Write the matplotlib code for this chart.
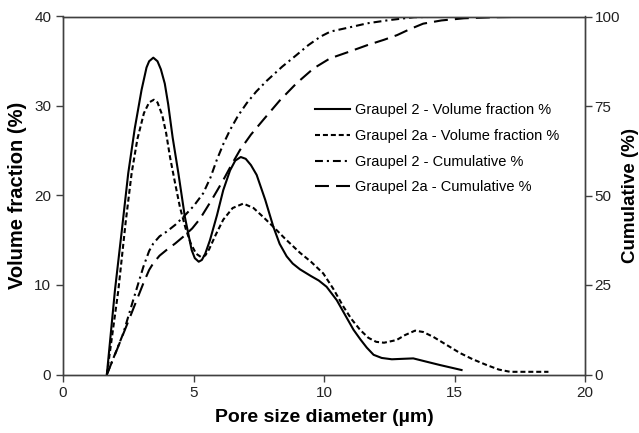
import matplotlib
matplotlib.use("Agg")
import matplotlib.pyplot as plt

plt.rcParams['font.family'] = ['Liberation Sans', 'DejaVu Sans']

# Volume fraction (%) - left axis
x_g2_vol = [1.68, 1.99, 2.25, 2.5, 2.75, 3.01, 3.2, 3.3, 3.46, 3.62, 3.75, 3.9, 4.03, 4.2,
            4.42, 4.67, 4.93, 5.05, 5.2, 5.32, 5.45, 5.63, 5.9, 6.14, 6.4, 6.6, 6.81, 7.0,
            7.2, 7.42, 7.75, 8.06, 8.3, 8.57, 8.8, 9.08, 9.5, 9.8, 10.1, 10.49, 10.8,
            11.13, 11.4, 11.64, 11.9, 12.21, 12.6, 13.0, 13.42, 13.9, 14.44, 14.9, 15.27]
y_g2_vol = [0, 9.4, 16.0, 22.5, 27.5, 31.8, 34.3, 35.0, 35.4, 35.0, 34.1, 32.5, 30.2, 26.5,
            22.5, 17.6, 13.9, 13.0, 12.6, 12.8, 13.5, 15.0, 17.8, 20.6, 22.8, 23.9, 24.3, 24.1,
            23.4, 22.3, 19.5, 16.5, 14.6, 13.2, 12.4, 11.75, 11.0, 10.5, 9.8, 8.3, 6.7,
            5.0, 3.9, 3.0, 2.2, 1.85, 1.7, 1.75, 1.8, 1.45, 1.06, 0.75, 0.5]

x_g2a_vol = [1.68, 2.12, 2.4, 2.63, 2.85, 3.1, 3.3, 3.48, 3.62, 3.8, 3.95, 4.1, 4.3, 4.48,
             4.7, 4.9, 5.1, 5.3, 5.45, 5.6, 5.85, 6.14, 6.5, 6.91, 7.3, 7.67, 8.06, 8.5,
             9.08, 9.5, 9.97, 10.35, 10.74, 11.05, 11.38, 11.7, 12.0, 12.3, 12.78, 13.1,
             13.49, 13.8, 14.19, 14.7, 15.21, 15.7, 16.23, 16.7, 17.13, 18.6]
y_g2a_vol = [0, 9.4, 17.0, 22.5, 26.3, 29.2, 30.4, 30.7, 30.4, 29.0, 27.0, 24.3, 21.3, 18.7,
             16.3, 14.6, 13.5, 13.1, 13.3, 14.0, 15.6, 17.3, 18.6, 19.1, 18.6, 17.6, 16.5, 15.2,
             13.6, 12.6, 11.3, 9.6, 7.6, 6.2, 5.0, 4.1, 3.65, 3.55, 3.85, 4.4,
             4.9, 4.75, 4.2, 3.3, 2.4, 1.7, 1.06, 0.55, 0.3, 0.3]

# Cumulative (%) - right axis
x_g2_cum = [1.68, 2.31, 2.69, 3.08, 3.3, 3.46, 3.7, 3.97, 4.3, 4.61, 5.0, 5.37, 5.65, 5.89,
            6.15, 6.4, 6.7, 7.04, 7.4, 7.8, 8.4, 8.94, 9.4, 9.87, 10.25, 11.0, 11.66, 12.5,
            13.45, 15.0, 18.6]
y_g2_cum = [0, 11.5, 20.8, 30.1, 34.5, 36.6, 38.6, 39.9, 41.8, 44.0, 47.0, 50.6, 55.0, 59.9,
            64.5, 68.3, 72.2, 75.8, 79.0, 82.0, 86.0, 89.2, 92.0, 94.4, 95.8, 97.0, 98.1, 99.0,
            99.8, 100, 100]

x_g2a_cum = [1.68, 2.06, 2.57, 3.08, 3.3, 3.46, 3.7, 3.97, 4.3, 4.61, 4.95, 5.25, 5.7, 6.14,
             6.45, 6.78, 7.2, 7.67, 8.3, 8.94, 9.6, 10.23, 10.9, 11.66, 12.3, 12.8, 13.3,
             13.8, 14.5, 15.36, 16.5, 18.6]
y_g2a_cum = [0, 6.8, 16.1, 25.5, 29.2, 31.1, 33.2, 34.8, 36.6, 38.5, 40.8, 43.5, 48.8, 54.3,
             58.5, 62.7, 67.0, 71.1, 76.5, 81.3, 85.5, 88.3, 90.0, 92.0, 93.5, 94.8, 96.5,
             98.0, 98.9, 99.5, 99.8, 100]

labels = ["Graupel 2 - Volume fraction %", "Graupel 2a - Volume fraction %",
          "Graupel 2 - Cumulative %", "Graupel 2a - Cumulative %"]

x_ticks = [0, 5, 10, 15, 20]
y_ticks = [0, 10, 20, 30, 40]
y2_ticks = [0, 25, 50, 75, 100]

W, H = 639, 433
fig = plt.figure(figsize=(W / 100, H / 100), dpi=100)
ax = fig.add_axes([63 / W, 1 - 374.5 / H, 522 / W, 358 / H])
ax2 = ax.twinx()

lw = 1.5
kw = dict(color='black', lw=lw, solid_joinstyle='round', dash_joinstyle='round')
l1, = ax.plot(x_g2_vol, y_g2_vol, **kw)
l2, = ax.plot(x_g2a_vol, y_g2a_vol, dashes=(2.4, 1.4), **kw)
l3, = ax2.plot(x_g2_cum, y_g2_cum, dashes=(3.8, 1.9, 1.0, 1.9), **kw)
l4, = ax2.plot(x_g2a_cum, y_g2a_cum, dashes=(6.7, 3.4), **kw)

ax.set_xlim(0, 20)
ax.set_ylim(0, 40)
ax2.set_ylim(0, 100)
ax.set_xticks(x_ticks)
ax.set_yticks(y_ticks)
ax2.set_yticks(y2_ticks)

spine_c = '#404040'
for a in (ax, ax2):
    for s in a.spines.values():
        s.set_color(spine_c)
        s.set_linewidth(1.0)
    a.tick_params(direction='out', length=5, width=1, color=spine_c,
                  labelsize=11, labelcolor='#222222')
ax2.tick_params(axis='y', pad=2)

ax.set_xlabel("Pore size diameter (µm)", fontsize=14, fontweight='bold', labelpad=6)
ax.set_ylabel("Volume fraction (%)", fontsize=14.5, fontweight='bold', labelpad=5)
ax2.set_ylabel("Cumulative (%)", fontsize=13.5, fontweight='bold', labelpad=1)

ax.legend([l1, l2, l3, l4], labels, loc='upper left', bbox_to_anchor=(0.483, 0.757),
          frameon=False, fontsize=10.5, handlelength=2.4, handletextpad=0.3,
          labelspacing=0.8, borderpad=0, borderaxespad=0)

fig.savefig("out.png", dpi=100)
